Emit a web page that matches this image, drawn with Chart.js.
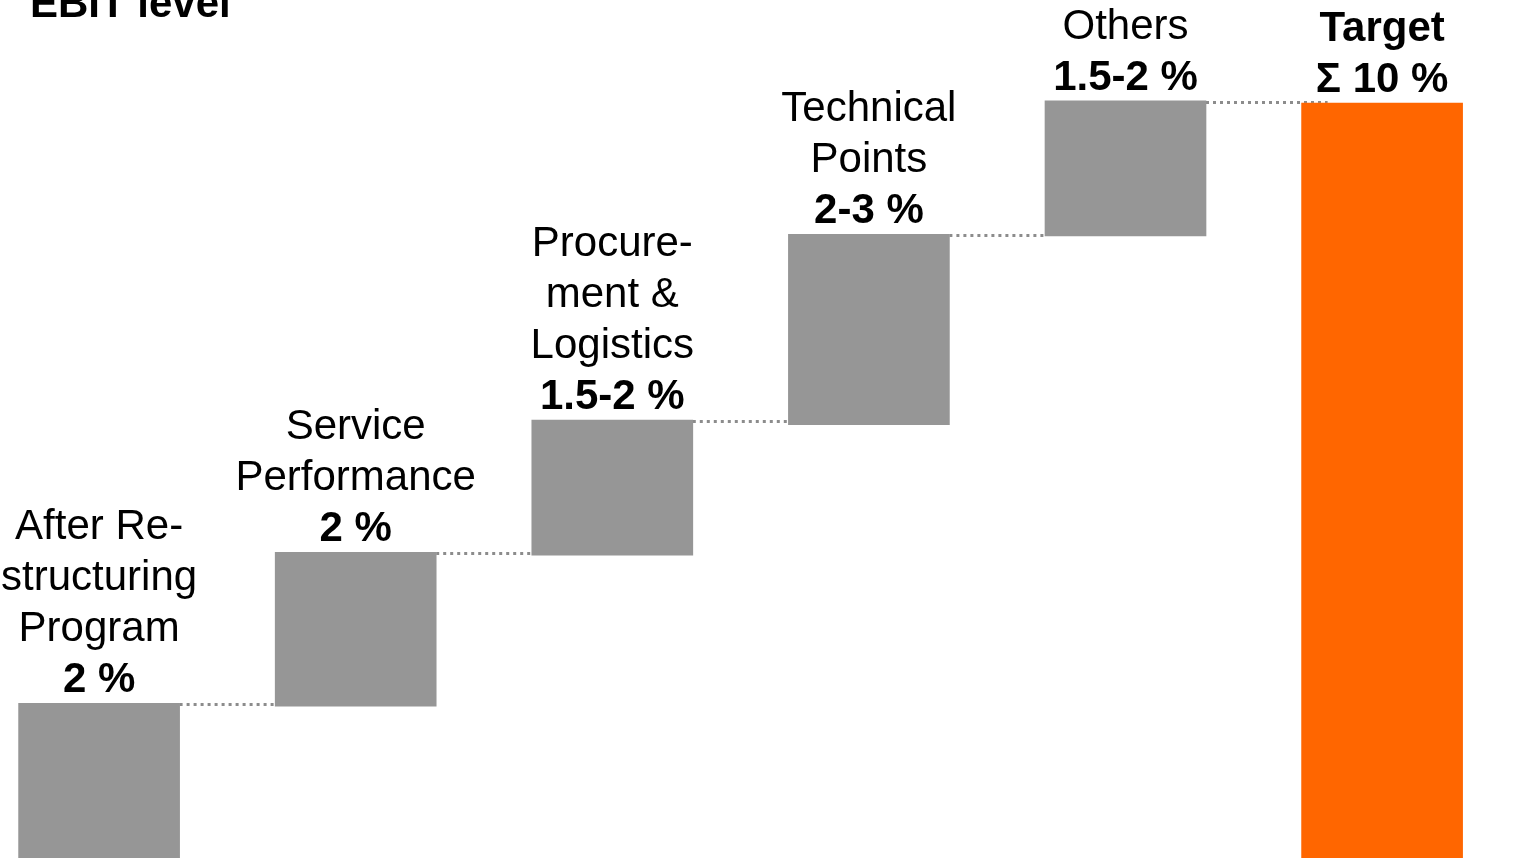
<!DOCTYPE html>
<html>
<head>
<meta charset="utf-8">
<script src="https://cdn.jsdelivr.net/npm/chart.js@4"></script>
<style>
  html, body { margin: 0; padding: 0; background: #ffffff; }
  #wrap { width: 1525px; height: 858px; position: relative; }
</style>
</head>
<body>
<div id="wrap"><canvas id="c"></canvas></div>
<script>
// ---- data ----
const categories = ["After Re-structuring Program", "Service Performance", "Procurement & Logistics", "Technical Points", "Others", "Target"];
const nameLines = [["After Re-", "structuring", "Program"], ["Service", "Performance"], ["Procure-", "ment &", "Logistics"], ["Technical", "Points"], ["Others"], ["Target"]];
const valueLabels = ["2 %", "2 %", "1.5-2 %", "2-3 %", "1.5-2 %", "\u03A3 10 %"];
const barLow  = [0, 2.01, 4.01, 5.74, 8.24, 0];
const barHigh = [2.05, 4.05, 5.80, 8.26, 10.03, 10.0];
const barKind = ["step", "step", "step", "step", "step", "total"];
const titleText = "EBIT level";

const GREY = "#969696";
const ORANGE = "#FF6600";

const labelPlugin = {
  id: "waterfallLabels",
  beforeDatasetsDraw(chart) {
    const ctx = chart.ctx;
    const meta = chart.getDatasetMeta(0);
    ctx.save();
    ctx.strokeStyle = "#8c8c8c";
    ctx.lineWidth = 3;
    ctx.setLineDash([3, 4]);
    for (let i = 0; i < meta.data.length - 1; i++) {
      const a = meta.data[i].getProps(["x", "y", "width"], true);
      const b = meta.data[i + 1].getProps(["x", "y", "width"], true);
      const y = Math.round(a.y) + 1.5;
      const extra = (barKind[i + 1] === "total") ? 26 : 0;
      ctx.beginPath();
      ctx.moveTo(a.x + a.width / 2, y);
      ctx.lineTo(b.x - b.width / 2 + extra, y);
      ctx.stroke();
    }
    ctx.restore();
  },
  afterDatasetsDraw(chart) {
    const ctx = chart.ctx;
    const meta = chart.getDatasetMeta(0);
    ctx.save();
    ctx.fillStyle = "#000000";
    ctx.textAlign = "center";
    ctx.textBaseline = "alphabetic";
    const lh = 51;
    meta.data.forEach((el, i) => {
      const p = el.getProps(["x", "y"], true);
      const top = Math.min(p.y, el.base);
      const base = top - 11;
      ctx.font = "bold 42px 'Liberation Sans', Arial, sans-serif";
      ctx.fillText(valueLabels[i], p.x, base);
      const lines = nameLines[i];
      ctx.font = (barKind[i] === "total" ? "bold " : "") + "42px 'Liberation Sans', Arial, sans-serif";
      for (let k = 0; k < lines.length; k++) {
        const yy = base - lh * (lines.length - k);
        ctx.fillText(lines[k], p.x, yy);
      }
    });
    ctx.textAlign = "left";
    ctx.font = "bold 42px 'Liberation Sans', Arial, sans-serif";
    ctx.fillText(titleText, 30, 17);
    ctx.restore();
  }
};

const points = categories.map((c, i) => ({ x: i, y: [barLow[i], barHigh[i]] }));

new Chart(document.getElementById("c"), {
  type: "bar",
  data: {
    datasets: [{
      label: "EBIT",
      data: points,
      backgroundColor: barKind.map(k => k === "total" ? ORANGE : GREY),
      borderWidth: 0,
      barThickness: 161
    }]
  },
  options: {
    responsive: true,
    maintainAspectRatio: false,
    animation: false,
    layout: { padding: 0 },
    plugins: { legend: { display: false }, tooltip: { enabled: false } },
    scales: {
      x: { type: "linear", display: false, min: -0.3862, max: 5.5569, offset: false, grid: { display: false } },
      y: { display: false, min: 0, max: 11.364, grid: { display: false } }
    }
  },
  plugins: [labelPlugin]
});
</script>
</body>
</html>
